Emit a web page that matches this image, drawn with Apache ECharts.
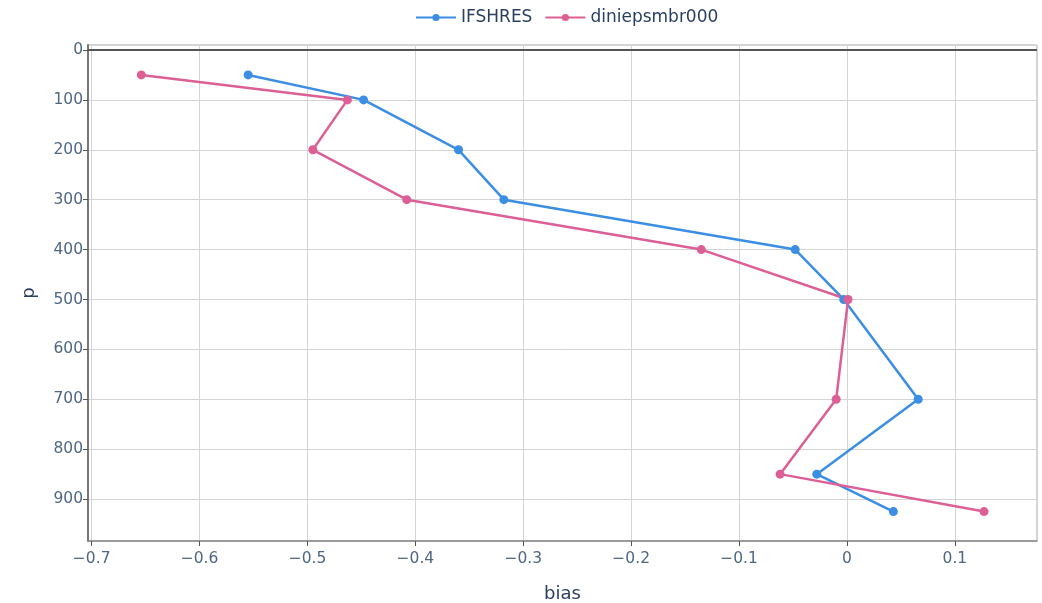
<!DOCTYPE html>
<html>
<head>
<meta charset="utf-8">
<script src="https://cdn.jsdelivr.net/npm/echarts@6/dist/echarts.min.js"></script>
<style>
  html, body { margin: 0; padding: 0; background: #fff; }
  #chart { width: 1042px; height: 603px; }
</style>
</head>
<body>
<div id="chart"></div>
<script>
// Pressure levels (hPa) and mean bias per model
const pressure = [50, 100, 200, 300, 400, 500, 700, 850, 925];
const ifshresBias = [-0.555, -0.448, -0.360, -0.318, -0.048, -0.003, 0.066, -0.028, 0.043];
const diniBias = [-0.654, -0.463, -0.495, -0.408, -0.135, 0.001, -0.010, -0.062, 0.127];
const seriesNames = ['IFSHRES', 'diniepsmbr000'];
const seriesColors = ['#3b8ee3', '#dc5f95'];

const font = '"DejaVu Sans", Verdana, sans-serif';
const tickColor = '#506784';
const titleColor = '#2a3f5f';

function pairs(xs) {
  return xs.map((v, i) => [v, pressure[i]]);
}

const chart = echarts.init(document.getElementById('chart'));

const lineSeries = [ifshresBias, diniBias].map((vals, i) => ({
  name: seriesNames[i],
  type: 'line',
  data: pairs(vals),
  symbol: 'circle',
  symbolSize: 9,
  lineStyle: { width: 2.5, color: seriesColors[i] },
  itemStyle: { color: seriesColors[i] },
  z: 3
}));

// darker zero line on the pressure axis
lineSeries[0].markLine = {
  silent: true,
  symbol: 'none',
  label: { show: false },
  lineStyle: { color: '#555', width: 2, type: 'solid' },
  data: [{ yAxis: 0 }]
};

chart.setOption({
  animation: false,
  backgroundColor: '#fff',
  color: seriesColors,
  legend: {
    top: 4,
    left: 410,
    itemWidth: 40,
    itemHeight: 9,
    itemGap: 12,
    textStyle: { fontFamily: font, fontSize: 17, color: titleColor },
    data: seriesNames
  },
  grid: {
    left: 88,
    right: 5,
    top: 45,
    bottom: 62,
    containLabel: false,
    outerBoundsMode: 'none',
    show: true,
    borderColor: '#aaa',
    borderWidth: 1
  },
  xAxis: {
    type: 'value',
    min: -0.7034,
    max: 0.1761,
    splitNumber: 9,
    name: 'bias',
    nameLocation: 'middle',
    nameGap: 44,
    nameTextStyle: { fontFamily: font, fontSize: 18, color: titleColor },
    axisLine: { show: true, onZero: false, lineStyle: { color: '#888', width: 1.5 } },
    axisTick: { show: true, length: 5, lineStyle: { color: '#555' } },
    axisLabel: {
      showMinLabel: false,
      showMaxLabel: false,
      fontFamily: font,
      fontSize: 15.5,
      color: tickColor,
      margin: 10,
      formatter: v => (v < 0 ? '\u2212' + Math.abs(v) : String(v))
    },
    splitLine: { show: true, lineStyle: { color: '#d4d4d4', width: 1 } }
  },
  yAxis: {
    type: 'value',
    inverse: true,
    min: -10,
    max: 984,
    splitNumber: 10,
    name: 'p',
    nameLocation: 'middle',
    nameGap: 50,
    nameRotate: 90,
    nameTextStyle: { fontFamily: font, fontSize: 18, color: titleColor },
    axisLine: { show: true, onZero: false, lineStyle: { color: '#777', width: 2 } },
    axisTick: { show: true, length: 5, lineStyle: { color: '#555' } },
    axisLabel: {
      showMinLabel: false,
      showMaxLabel: false,
      fontFamily: font,
      fontSize: 15.5,
      color: tickColor,
      margin: 5
    },
    splitLine: { show: true, lineStyle: { color: '#d4d4d4', width: 1 } }
  },
  series: lineSeries
});
</script>
</body>
</html>
